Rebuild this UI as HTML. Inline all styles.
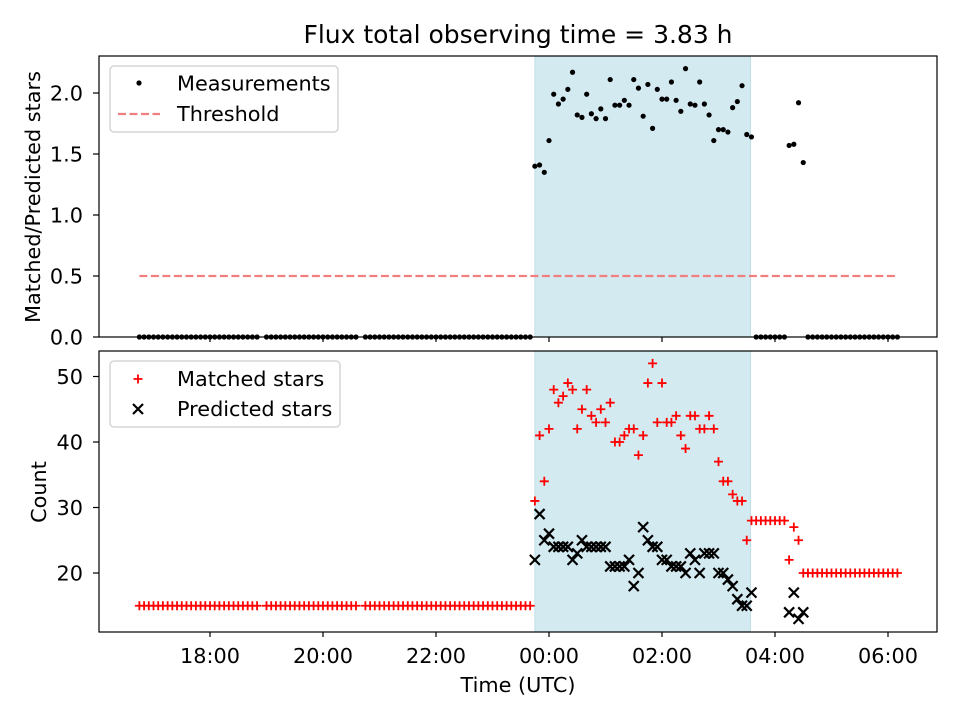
<!DOCTYPE html>
<html><head><meta charset="utf-8"><style>
body{margin:0;background:#fff}
svg{display:block;font-family:"DejaVu Sans","Liberation Sans",sans-serif}
</style></head><body>
<svg id="chart" width="960" height="720" viewBox="0 0 960 720" xmlns="http://www.w3.org/2000/svg">
<rect width="960" height="720" fill="#fff"/>
<text x="518" y="43" font-size="25" text-anchor="middle">Flux total observing time = 3.83 h</text>
<g id="topPanel"></g><g id="botPanel"></g>
</svg>
<script>
const timesMin = [
-435,-430,-425,-420,-415,-410,-405,-400,-395,-390,-385,-380,-375,-370,-365,-360,-355,-350,-345,-340,-335,-330,-325,-320,-315,-310,
-300,-295,-290,-285,-280,-275,-270,-265,-260,-255,-250,-245,-240,-235,-230,-225,-220,-215,-210,-205,
-195,-190,-185,-180,-175,-170,-165,-160,-155,-150,-145,-140,-135,-130,-125,-120,-115,-110,-105,-100,-95,-90,-85,-80,-75,-70,-65,-60,-55,-50,-45,-40,-35,-30,-25,-20,
-15,-10,-5,0,5,10,15,20,25,30,35,40,45,50,55,60,65,70,75,80,85,90,95,100,105,110,115,120,125,130,135,140,145,150,155,160,165,170,175,180,185,190,195,200,205,210,215,
220,225,230,235,240,245,250,255,260,265,270,
275,280,285,290,295,300,305,310,315,320,325,330,335,340,345,350,355,360,365,370];
const ratio = [
0,0,0,0,0,0,0,0,0,0,0,0,0,0,0,0,0,0,0,0,0,0,0,0,0,0,
0,0,0,0,0,0,0,0,0,0,0,0,0,0,0,0,0,0,0,0,
0,0,0,0,0,0,0,0,0,0,0,0,0,0,0,0,0,0,0,0,0,0,0,0,0,0,0,0,0,0,0,0,0,0,0,0,
1.40,1.41,1.35,1.61,1.99,1.91,1.95,2.03,2.17,1.82,1.80,1.99,1.83,1.79,1.87,1.79,2.11,1.90,1.90,1.94,1.90,2.11,2.04,1.81,2.07,1.71,2.03,1.95,1.95,2.09,1.94,1.85,2.20,1.91,1.90,2.09,1.91,1.82,1.61,1.70,1.70,1.68,1.88,1.93,2.06,1.66,1.64,
0,0,0,0,0,0,0,1.57,1.58,1.92,1.43,
0,0,0,0,0,0,0,0,0,0,0,0,0,0,0,0,0,0,0,0];
const matched = [
15,15,15,15,15,15,15,15,15,15,15,15,15,15,15,15,15,15,15,15,15,15,15,15,15,15,
15,15,15,15,15,15,15,15,15,15,15,15,15,15,15,15,15,15,15,15,
15,15,15,15,15,15,15,15,15,15,15,15,15,15,15,15,15,15,15,15,15,15,15,15,15,15,15,15,15,15,15,15,15,15,15,15,
31,41,34,42,48,46,47,49,48,42,45,48,44,43,45,43,46,40,40,41,42,42,38,41,49,52,43,49,43,43,44,41,39,44,44,42,42,44,42,37,34,34,32,31,31,25,28,
28,28,28,28,28,28,28,22,27,25,20,
20,20,20,20,20,20,20,20,20,20,20,20,20,20,20,20,20,20,20,20];
const N=null;
const predicted = [
N,N,N,N,N,N,N,N,N,N,N,N,N,N,N,N,N,N,N,N,N,N,N,N,N,N,
N,N,N,N,N,N,N,N,N,N,N,N,N,N,N,N,N,N,N,N,
N,N,N,N,N,N,N,N,N,N,N,N,N,N,N,N,N,N,N,N,N,N,N,N,N,N,N,N,N,N,N,N,N,N,N,N,
22,29,25,26,24,24,24,24,22,23,25,24,24,24,24,24,21,21,21,21,22,18,20,27,25,24,24,22,22,21,21,21,20,23,22,20,23,23,23,20,20,19,18,16,15,15,17,
N,N,N,N,N,N,N,14,17,13,14,
N,N,N,N,N,N,N,N,N,N,N,N,N,N,N,N,N,N,N,N];
const threshold = 0.5;
const spanStartMin = -15, spanEndMin = 214;
const xTickMin = [-360,-240,-120,0,120,240,360];
const xTickLabels = ["18:00","20:00","22:00","00:00","02:00","04:00","06:00"];
const topTicks = [0,0.5,1.0,1.5,2.0];
const topTickLabels = ["0.0","0.5","1.0","1.5","2.0"];
const botTicks = [20,30,40,50];
const botTickLabels = ["20","30","40","50"];

const NS="http://www.w3.org/2000/svg";
const X0=99,X1=937,FS=20.8;
const xs=m=>549+m/60*56.5;
const yTop=v=>337-v*122;
const yBot=v=>573-(v-20)*6.55;
function el(p,tag,attrs,txt){const e=document.createElementNS(NS,tag);for(const k in attrs)e.setAttribute(k,attrs[k]);if(txt!=null)e.textContent=txt;p.appendChild(e);return e;}
const gTop=document.getElementById('topPanel'),gBot=document.getElementById('botPanel');

function panel(g,y0,y1,name){
  const sp=el(g,'rect',{x:xs(spanStartMin),y:y0,width:xs(spanEndMin)-xs(spanStartMin),height:y1-y0,fill:'#d4eaf1',stroke:'#bde0ea','stroke-width':1});
  
  
  xTickMin.forEach((m,i)=>{
    const t=el(g,'line',{x1:xs(m),x2:xs(m),y1:y1,y2:y1+5,stroke:'#000','stroke-width':1.2});
    
    
  });
}
panel(gTop,56,337,'top');
panel(gBot,351,632,'bottom');

const th=el(gTop,'line',{x1:xs(-435),x2:xs(370),y1:yTop(threshold),y2:yTop(threshold),stroke:'#f08080','stroke-width':2.2,'stroke-dasharray':'8,3.5'});



timesMin.forEach((m,i)=>{
  const c=el(gTop,'circle',{cx:xs(m),cy:yTop(ratio[i]),r:2.6,fill:'#000'});
  
  
});
timesMin.forEach((m,i)=>{
  const x=xs(m),y=yBot(matched[i]);
  const p=el(gBot,'path',{d:`M${x-4.5},${y}h9M${x},${y-4.5}v9`,stroke:'#f00','stroke-width':1.8,fill:'none'});
  
  
});
timesMin.forEach((m,i)=>{
  if(predicted[i]==null)return;
  const x=xs(m),y=yBot(predicted[i]),s=5;
  const p=el(gBot,'path',{d:`M${x-s},${y-s}L${x+s},${y+s}M${x-s},${y+s}L${x+s},${y-s}`,stroke:'#000','stroke-width':2.2,fill:'none'});
  
  
});

[[gTop,56,337,topTicks,topTickLabels,yTop,'top'],[gBot,351,632,botTicks,botTickLabels,yBot,'bottom']].forEach(([g,y0,y1,ticks,labs,fy,n])=>{
  const f=el(g,'rect',{x:X0,y:y0,width:X1-X0,height:y1-y0,fill:'none',stroke:'#000','stroke-width':1.2});
  
  
  ticks.forEach((v,i)=>{
    const t=el(g,'line',{x1:X0-6,x2:X0,y1:fy(v),y2:fy(v),stroke:'#000','stroke-width':1.2});
    
    
    const l=el(g,'text',{x:X0-16,y:fy(v)+7.5,'font-size':FS,'text-anchor':'end'},labs[i]);
    
    
  });
});
xTickMin.forEach((m,i)=>{
  const l=el(gBot,'text',{x:xs(m),y:663,'font-size':FS,'text-anchor':'middle'},xTickLabels[i]);
  
  
});
let t;
t=el(gBot,'text',{x:518,y:692,'font-size':FS,'text-anchor':'middle'},'Time (UTC)');


t=el(gTop,'text',{x:0,y:0,'font-size':FS,'text-anchor':'middle',transform:'translate(40,197) rotate(-90)'},'Matched/Predicted stars');


t=el(gBot,'text',{x:0,y:0,'font-size':FS,'text-anchor':'middle',transform:'translate(46,492) rotate(-90)'},'Count');



let lg=el(gTop,'rect',{x:110,y:66,width:228,height:66,rx:4,fill:'#fff','fill-opacity':0.8,stroke:'#d6d6d6','stroke-width':1.5});


t=el(gTop,'circle',{cx:139,cy:83,r:2.6,fill:'#000'});


t=el(gTop,'text',{x:177,y:90.5,'font-size':FS},'Measurements');


t=el(gTop,'line',{x1:118,x2:160,y1:114,y2:114,stroke:'#f08080','stroke-width':2.2,'stroke-dasharray':'8,3.5'});


t=el(gTop,'text',{x:177,y:121,'font-size':FS},'Threshold');



lg=el(gBot,'rect',{x:110,y:361,width:230,height:66,rx:4,fill:'#fff','fill-opacity':0.8,stroke:'#d6d6d6','stroke-width':1.5});


t=el(gBot,'path',{d:'M133.5,379h9M138,374.5v9',stroke:'#f00','stroke-width':1.8});


t=el(gBot,'text',{x:177,y:386,'font-size':FS},'Matched stars');


t=el(gBot,'path',{d:'M133,404L143,414M133,414L143,404',stroke:'#000','stroke-width':2.2});


t=el(gBot,'text',{x:177,y:416,'font-size':FS},'Predicted stars');


</script>
</body></html>
